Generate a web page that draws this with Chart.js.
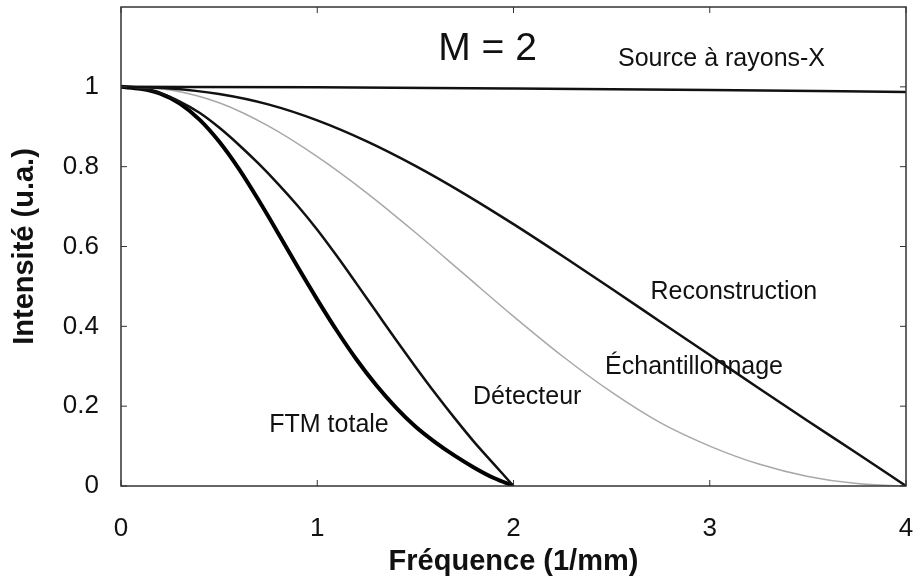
<!DOCTYPE html>
<html>
<head>
<meta charset="utf-8">
<script src="https://cdn.jsdelivr.net/npm/chart.js@4"></script>
<style>
  html, body { margin: 0; padding: 0; background: #fff; }
  #wrap { width: 915px; height: 579px; position: relative; }
</style>
</head>
<body>
<div id="wrap"><canvas id="mtfChart"></canvas></div>
<script>
// values
const freqFine = [0, 0.1, 0.2, 0.3, 0.4, 0.5, 0.6, 0.7, 0.8, 0.9, 1.0, 1.1, 1.2, 1.3, 1.4, 1.5, 1.6, 1.7, 1.8, 1.9, 2.0];
const ftmTotale = [1, 0.995, 0.983, 0.958, 0.918, 0.863, 0.795, 0.717, 0.634, 0.549, 0.467, 0.389, 0.317, 0.253, 0.197, 0.149, 0.11, 0.076, 0.046, 0.02, 0];
const detecteur = [1, 0.996, 0.984, 0.963, 0.935, 0.898, 0.855, 0.808, 0.757, 0.702, 0.642, 0.576, 0.507, 0.437, 0.367, 0.299, 0.233, 0.17, 0.11, 0.055, 0];

const freqCoarse = [0, 0.25, 0.5, 0.75, 1.0, 1.25, 1.5, 1.75, 2.0, 2.25, 2.5, 2.75, 3.0, 3.25, 3.5, 3.75, 4.0];
const echantillonnage = [1, 0.992, 0.96, 0.902, 0.825, 0.735, 0.635, 0.53, 0.425, 0.325, 0.235, 0.158, 0.1, 0.055, 0.024, 0.006, 0];
const reconstruction = [1, 0.996, 0.982, 0.956, 0.916, 0.864, 0.802, 0.732, 0.656, 0.576, 0.494, 0.411, 0.328, 0.245, 0.163, 0.082, 0];

const freqSource = [0, 1, 2, 3, 4];
const sourceRX = [1, 0.999, 0.996, 0.992, 0.987];

const xTicks = [0, 1, 2, 3, 4];
const yTicks = [0, 0.2, 0.4, 0.6, 0.8, 1];

// curve labels, placed in data units
const curveLabels = [
    { text: 'M = 2', x: 1.868, y: 1.093, size: 39 },
    { text: 'Source à rayons-X', x: 3.06, y: 1.07, size: 25 },
    { text: 'Reconstruction', x: 3.123, y: 0.486, size: 25 },
    { text: 'Échantillonnage', x: 2.92, y: 0.298, size: 25 },
    { text: 'Détecteur', x: 2.07, y: 0.223, size: 25 },
    { text: 'FTM totale', x: 1.06, y: 0.153, size: 25 }
];

const FONT = '"Liberation Sans", Arial, sans-serif';

function pts(xs, ys) {
    return xs.map((x, i) => ({ x: x, y: ys[i] }));
}

function noOverhang(s) {
    s.paddingLeft = 0; s.paddingRight = 0; s.paddingTop = 0; s.paddingBottom = 0;
}

const frameAndLabels = {
    id: 'frameAndLabels',
    afterDatasetsDraw(chart) {
        const { ctx, chartArea: a, scales } = chart;
        ctx.save();
        // box
        ctx.strokeStyle = '#333';
        ctx.lineWidth = 1.5;
        ctx.strokeRect(a.left, a.top, a.right - a.left, a.bottom - a.top);
        // inward ticks
        ctx.lineWidth = 1;
        xTicks.forEach(v => {
            const px = scales.x.getPixelForValue(v);
            ctx.beginPath();
            ctx.moveTo(px, a.bottom); ctx.lineTo(px, a.bottom - 6);
            ctx.moveTo(px, a.top); ctx.lineTo(px, a.top + 6);
            ctx.stroke();
        });
        yTicks.forEach(v => {
            const py = scales.y.getPixelForValue(v);
            ctx.beginPath();
            ctx.moveTo(a.left, py); ctx.lineTo(a.left + 6, py);
            ctx.moveTo(a.right, py); ctx.lineTo(a.right - 6, py);
            ctx.stroke();
        });
        // text labels
        ctx.fillStyle = '#111';
        ctx.textAlign = 'center';
        ctx.textBaseline = 'middle';
        curveLabels.forEach(l => {
            ctx.font = l.size + 'px ' + FONT;
            ctx.fillText(l.text, scales.x.getPixelForValue(l.x), scales.y.getPixelForValue(l.y));
        });
        ctx.restore();
    }
};

const ctx = document.getElementById('mtfChart').getContext('2d');
const mtfChart = new Chart(ctx, {
    type: 'line',
    data: {
        datasets: [
            {
                label: 'Source à rayons-X',
                data: pts(freqSource, sourceRX),
                borderColor: '#111',
                borderWidth: 2.5
            },
            {
                label: 'Reconstruction',
                data: pts(freqCoarse, reconstruction),
                borderColor: '#111',
                borderWidth: 2.5
            },
            {
                label: 'Échantillonnage',
                data: pts(freqCoarse, echantillonnage),
                borderColor: '#a8a8a8',
                borderWidth: 1.5
            },
            {
                label: 'Détecteur',
                data: pts(freqFine, detecteur),
                borderColor: '#111',
                borderWidth: 2.5
            },
            {
                label: 'FTM totale',
                data: pts(freqFine, ftmTotale),
                borderColor: '#000',
                borderWidth: 4
            }
        ]
    },
    options: {
        responsive: true,
        maintainAspectRatio: false,
        animation: false,
        layout: { padding: { top: 7, right: 9, left: 0, bottom: 0 } },
        elements: {
            point: { radius: 0 },
            line: { cubicInterpolationMode: 'monotone', fill: false }
        },
        plugins: {
            legend: { display: false },
            tooltip: { enabled: false }
        },
        scales: {
            x: {
                type: 'linear',
                min: 0,
                max: 4,
                afterBuildTicks: s => { s.ticks = xTicks.map(v => ({ value: v })); },
                grid: { display: false, drawTicks: false },
                border: { display: false },
                ticks: { color: '#111', font: { family: FONT, size: 26 }, padding: 27, maxRotation: 0 },
                title: {
                    display: true,
                    text: 'Fréquence (1/mm)',
                    color: '#111',
                    font: { family: FONT, size: 29, weight: 'bold' },
                    padding: { top: 0, bottom: 0 }
                },
                afterFit: s => { s.height = 93; noOverhang(s); }
            },
            y: {
                min: 0,
                max: 1.2,
                afterBuildTicks: s => { s.ticks = yTicks.map(v => ({ value: v })); },
                grid: { display: false, drawTicks: false },
                border: { display: false },
                ticks: {
                    color: '#111',
                    font: { family: FONT, size: 26 },
                    padding: 22,
                    callback: v => String(Number(v.toFixed(1)))
                },
                title: {
                    display: true,
                    text: 'Intensité (u.a.)',
                    color: '#111',
                    font: { family: FONT, size: 29, weight: 'bold' },
                    padding: { top: 8, bottom: 0 }
                },
                afterFit: s => { s.width = 121; noOverhang(s); }
            }
        }
    },
    plugins: [frameAndLabels]
});
</script>
</body>
</html>
